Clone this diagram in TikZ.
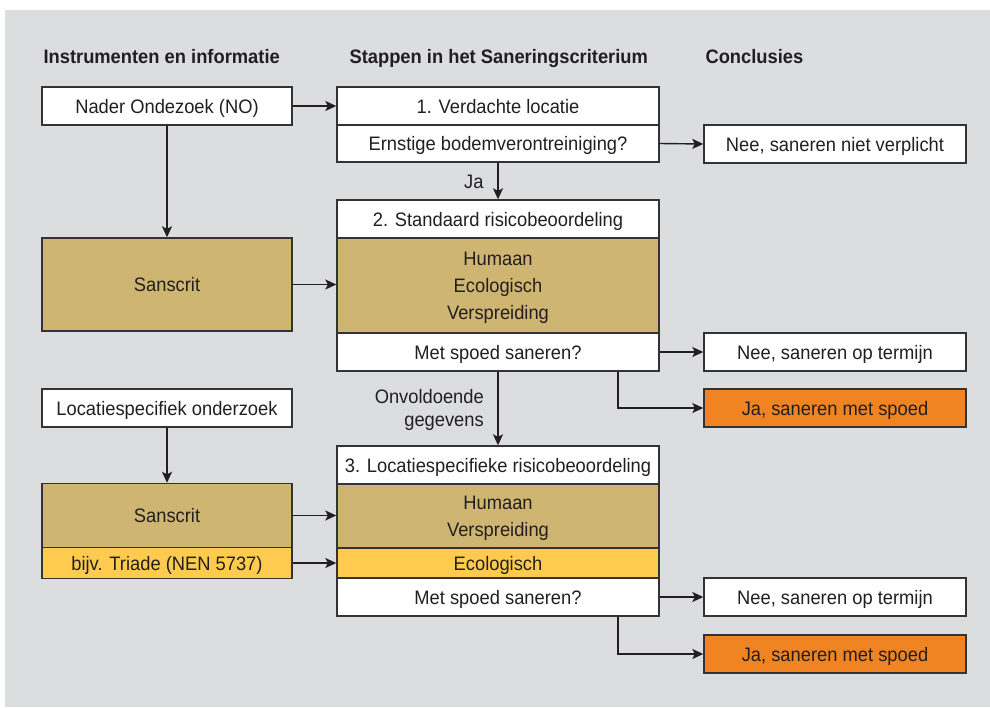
\documentclass[tikz,border=0pt]{standalone}
\usepackage{fontspec}
\setmainfont{Liberation Sans}[FakeStretch=0.94]
\usetikzlibrary{arrows.meta}
\definecolor{bggray}{HTML}{DCDDDF}
\definecolor{tan}{HTML}{CFB572}
\definecolor{yel}{HTML}{FFCB4F}
\definecolor{org}{HTML}{F08322}
\definecolor{ink}{HTML}{231F20}
\definecolor{edge}{HTML}{333333}
\begin{document}
\begin{tikzpicture}[x=1pt,y=-1pt,
  every node/.style={font=\fontsize{19.5}{27}\selectfont, text=ink},
  box/.style={draw=edge, line width=1.4pt, fill=white, inner sep=0pt, align=center,
    text depth=0pt},
  oneline/.style={text height=14pt},
  lcol/.style={box, minimum width=250pt},
  mcol/.style={box, minimum width=322pt},
  rcol/.style={box, minimum width=262pt},
  head/.style={anchor=base west, font=\fontsize{19.5}{22}\selectfont\bfseries},
  arr/.style={draw=ink, line width=1.4pt, -{Stealth[length=11pt,width=10pt,inset=2.5pt]}}]
\useasboundingbox (0,0) rectangle (990,707);
\fill[bggray] (5,10) rectangle (990,707);

% headers
\node[head] (h1) at (40,63) {Instrumenten en informatie};
\node[head] (h2) at (346,63) {Stappen in het Saneringscriterium};
\node[head] (h3) at (702,63) {Conclusies};

% left column
\node[lcol, oneline, minimum height=38pt] (no) at (167,106) {Nader Ondezoek (NO)};
\node[lcol, oneline, minimum height=93pt, fill=tan] (san1) at (167,284.5) {Sanscrit};
\node[lcol, oneline, minimum height=38pt] (loc) at (167,408) {Locatiespecifiek onderzoek};
\node[lcol, oneline, minimum height=64pt, fill=tan] (san2) at (167,515.5) {Sanscrit};
\node[lcol, oneline, minimum height=31pt, fill=yel] (tri) at (167,563) {bijv. Triade (NEN 5737)};

% middle column
\node[mcol, oneline, minimum height=38pt] (s1a) at (498,106) {1. Verdachte locatie};
\node[mcol, oneline, minimum height=37pt] (s1b) at (498,143.5) {Ernstige bodemverontreiniging?};
\node[mcol, oneline, minimum height=38pt] (s2a) at (498,219) {2. Standaard risicobeoordeling};
\node[mcol, minimum height=95pt, fill=tan] (s2b) at (498,285.5) {Humaan\\Ecologisch\\Verspreiding};
\node[mcol, oneline, minimum height=38pt] (s2c) at (498,352) {Met spoed saneren?};
\node[mcol, oneline, minimum height=38pt] (s3a) at (498,465) {3. Locatiespecifieke risicobeoordeling};
\node[mcol, minimum height=64pt, fill=tan] (s3b) at (498,516) {Humaan\\Verspreiding};
\node[mcol, oneline, minimum height=30pt, fill=yel] (s3c) at (498,563) {Ecologisch};
\node[mcol, oneline, minimum height=38pt] (s3d) at (498,597) {Met spoed saneren?};

% right column
\node[rcol, oneline, minimum height=38pt] (c1) at (835,144) {Nee, saneren niet verplicht};
\node[rcol, oneline, minimum height=38pt] (c2) at (835,352) {Nee, saneren op termijn};
\node[rcol, oneline, minimum height=38pt, fill=org] (c3) at (835,408) {Ja, saneren met spoed};
\node[rcol, oneline, minimum height=38pt] (c4) at (835,597) {Nee, saneren op termijn};
\node[rcol, oneline, minimum height=38pt, fill=org] (c5) at (835,654) {Ja, saneren met spoed};

% connectors
\draw[arr] (no.east) -- (s1a.west);
\draw[arr] (no.south) -- (san1.north);
\draw[arr] (san1.east) -- (san1.east -| s2b.west);
\draw[arr] (s1b.south) -- (s2a.north);
\node[anchor=base east] (ja) at (487,188) {Ja};
\draw[arr] (s1b.east) -- (c1.west);
\draw[arr] (s2c.east) -- (c2.west);
\draw[arr] ([xshift=120pt]s2c.south) |- (c3.west);
\draw[arr] (s2c.south) -- (s3a.north);
\node[anchor=north east, align=right, inner sep=0pt,
  font=\fontsize{19.5}{23}\selectfont] (onv) at (484,389) {Onvoldoende\\gegevens};
\draw[arr] (loc.south) -- (san2.north);
\draw[arr] (san2.east) -- (san2.east -| s3b.west);
\draw[arr] (tri.east) -- (tri.east -| s3c.west);
\draw[arr] (s3d.east) -- (c4.west);
\draw[arr] ([xshift=120pt]s3d.south) |- (c5.west);
\end{tikzpicture}
\end{document}
